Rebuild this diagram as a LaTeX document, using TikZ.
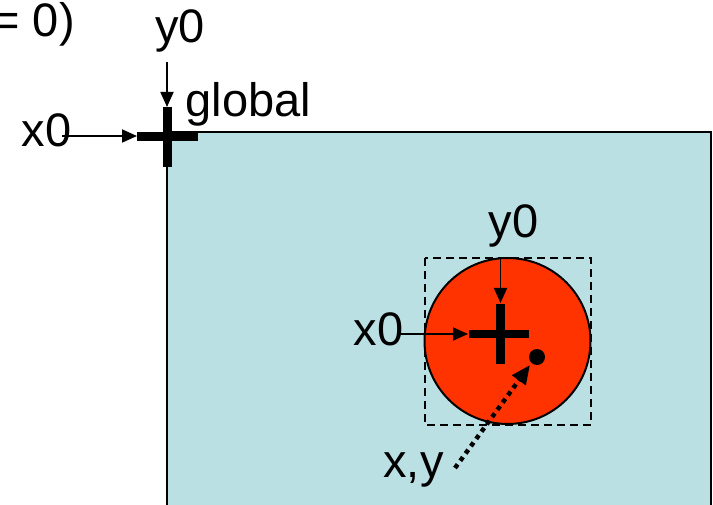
\documentclass[tikz,border=0pt]{standalone}
\usepackage{fontspec}
\setmainfont{Liberation Sans}
\usetikzlibrary{arrows.meta}
\definecolor{bgblue}{RGB}{187,224,227}
\definecolor{discred}{RGB}{255,51,0}
\tikzset{
  lbl/.style={inner sep=0pt, anchor=base, font=\fontsize{47}{50}\selectfont},
  thinarrow/.style={line width=1.8pt, -{Triangle[length=15pt,width=13pt]}},
  crossbar/.style={line width=9pt},
  smallbar/.style={line width=8.5pt},
}
\begin{document}
\begin{tikzpicture}[x=1pt,y=-1pt]
\useasboundingbox (0,0) rectangle (713,505);
\begin{scope}
\clip (0,0) rectangle (713,505);
% background panel
\draw[line width=2pt, fill=bgblue] (167,132) rectangle (711,520);
% texts
\node[lbl, anchor=base east] (eq) at (75,37) {= 0)};
\node[lbl] (gy0) at (180,43) {y0};
\node[lbl] (gx0) at (46.5,147) {x0};
\node[lbl] (glob) at (248.5,117) {global};
% global cross
\coordinate (gc) at (167.5,137);
\draw[crossbar] (167.5,107) -- (167.5,167);
\draw[crossbar] (137,137) -- (198,137);
\coordinate (gx0s) at (62,136);
\coordinate (gx0e) at (137,136);
\coordinate (gy0s) at (167,62);
\coordinate (gy0e) at (167,107);
\draw[thinarrow] (gx0s) -- (gx0e);
\draw[thinarrow] (gy0s) -- (gy0e);
% local object
\draw[line width=2.2pt, dash pattern=on 8pt off 5pt] (425,258) rectangle (591,425);
\node[circle, draw, line width=2pt, fill=discred, minimum size=166pt, inner sep=0pt] (disc) at (507.5,341) {};
\draw[smallbar] (500.5,304) -- (500.5,364);
\draw[smallbar] (469,334) -- (529,334);
\node[lbl] (ly0) at (513.5,238) {y0};
\node[lbl] (lx0) at (378.5,345) {x0};
\node[lbl] (lxy) at (413.5,477) {x,y};
\coordinate (ly0s) at (500.5,258);
\coordinate (ly0e) at (500.5,303);
\coordinate (lx0s) at (397,334);
\coordinate (lx0e) at (468,334);
\draw[thinarrow] (ly0s) -- (ly0e);
\draw[thinarrow] (lx0s) -- (lx0e);
\fill (537,357) circle[radius=8] coordinate (pt);
\coordinate (xys) at (455,468);
\coordinate (xye) at (530,365);
\draw[line width=4.5pt, dash pattern=on 4.5pt off 4.5pt, -{Triangle[length=19pt,width=16pt]}] (xys) -- (xye);
\end{scope}
\end{tikzpicture}
\end{document}
